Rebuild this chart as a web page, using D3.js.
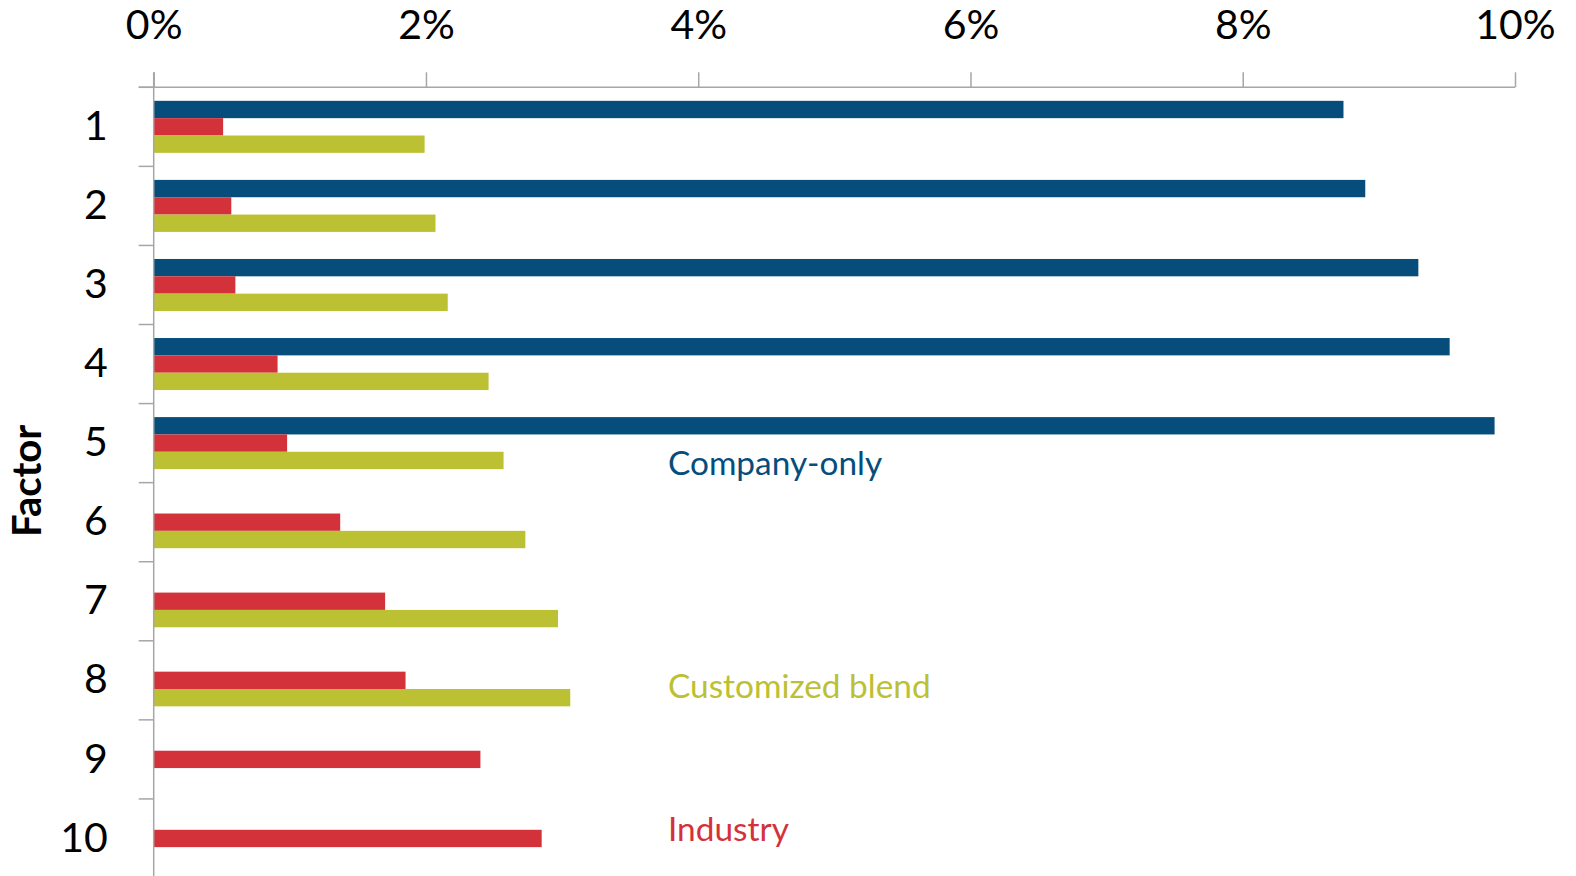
<!DOCTYPE html>
<html>
<head>
<meta charset="utf-8">
<script src="https://cdn.jsdelivr.net/npm/d3@7"></script>
<style>
  html, body { margin: 0; padding: 0; background: #fff; }
  svg { display: block; }
  text { font-family: Lato, "Open Sans", sans-serif; }
</style>
</head>
<body>
<svg id="chart" width="1576" height="876"></svg>
<script>
// Factor labels (rows)
const factors = ["1", "2", "3", "4", "5", "6", "7", "8", "9", "10"];
// Percent values per factor (null = no bar)
const companyOnly = [8.74, 8.90, 9.29, 9.52, 9.85, null, null, null, null, null];
const industry = [0.51, 0.57, 0.60, 0.91, 0.98, 1.37, 1.70, 1.85, 2.40, 2.85];
const customizedBlend = [1.99, 2.07, 2.16, 2.46, 2.57, 2.73, 2.97, 3.06, null, null];
// Top axis ticks
const xTicks = [0, 2, 4, 6, 8, 10];
// Series in drawing order inside each row
const seriesNames = ["Company-only", "Industry", "Customized blend"];
const seriesColors = ["#064d7b", "#d3323a", "#bcc033"];

const svg = d3.select("#chart");
const axisColor = "#a6a6a6";

const x = d3.scaleLinear().domain([0, 10]).range([153.7, 1515]);
const y = d3.scaleBand().domain(factors).range([87.3, 878]).padding(0);
const ySub = d3.scaleBand().domain(seriesNames).range([0, y.bandwidth()])
  .paddingInner(0).paddingOuter(0.78);

const seriesValues = [companyOnly, industry, customizedBlend];
const rows = factors.map((f, i) => ({
  factor: f,
  values: seriesNames.map((s, k) => ({ series: s, color: seriesColors[k], v: seriesValues[k][i] }))
}));

// Bars
const g = svg.append("g");
g.selectAll("g.row").data(rows).join("g")
  .attr("class", "row")
  .attr("transform", d => `translate(0,${y(d.factor)})`)
  .selectAll("rect").data(d => d.values.filter(e => e.v != null)).join("rect")
  .attr("x", x(0))
  .attr("y", d => ySub(d.series))
  .attr("width", d => x(d.v) - x(0))
  .attr("height", ySub.bandwidth())
  .attr("fill", d => d.color);

// Top percent axis
const xAxis = d3.axisTop(x)
  .tickValues(xTicks)
  .tickFormat(d => d + "%")
  .tickSize(15)
  .tickSizeOuter(0)
  .tickPadding(33);
const gx = svg.append("g").attr("transform", `translate(0,${y.range()[0]})`).call(xAxis);
gx.select(".domain").attr("stroke", axisColor).attr("stroke-width", 1.5)
  .attr("d", `M${x(0) - 15},0H${x(10)}`);
gx.selectAll(".tick line").attr("stroke", axisColor).attr("stroke-width", 1.5);
gx.selectAll(".tick text").attr("fill", "#000").style("font-size", "41px")
  .style("font-family", "Lato, 'Open Sans', sans-serif");

// Left category axis: boundary ticks and factor labels
const boundaries = factors.map(f => y(f)).concat([y.range()[1]]);
svg.append("line")
  .attr("x1", x(0)).attr("x2", x(0))
  .attr("y1", y.range()[0] - 15).attr("y2", 876)
  .attr("stroke", axisColor).attr("stroke-width", 1.5);
svg.append("g").selectAll("line").data(boundaries).join("line")
  .attr("x1", x(0) - 15).attr("x2", x(0))
  .attr("y1", d => d).attr("y2", d => d)
  .attr("stroke", axisColor).attr("stroke-width", 1.5);

const yAxis = d3.axisLeft(y).tickSize(0).tickPadding(46);
const gy = svg.append("g").attr("transform", `translate(${x(0)},0)`).call(yAxis);
gy.select(".domain").remove();
gy.selectAll(".tick text").attr("fill", "#000").style("font-size", "41px")
  .style("font-family", "Lato, 'Open Sans', sans-serif");

// Axis title
svg.append("text")
  .attr("transform", `translate(41,481) rotate(-90)`)
  .attr("text-anchor", "middle")
  .style("font-size", "40px").style("font-weight", "bold")
  .attr("fill", "#000")
  .text("Factor");

// Series labels placed in the chart area
const seriesLabelY = [475, 841, 698];
svg.append("g").selectAll("text").data(seriesNames).join("text")
  .attr("x", 668)
  .attr("y", (d, i) => seriesLabelY[i])
  .attr("fill", (d, i) => seriesColors[i])
  .style("font-size", "33.4px")
  .text(d => d);
</script>
</body>
</html>
